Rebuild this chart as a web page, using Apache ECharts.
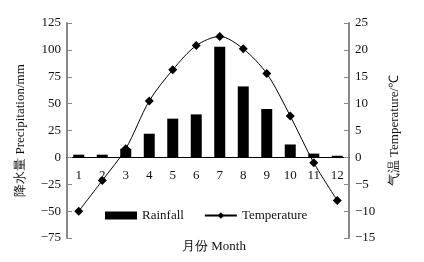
<!DOCTYPE html>
<html>
<head>
<meta charset="utf-8" />
<title></title>
<script type="text/javascript" src="https://cdn.jsdelivr.net/npm/echarts@6/dist/echarts.min.js"></script>
<style>
	* { margin: 0; padding: 0; }
	html, body { background: #fff; }
	#main { width: 424px; height: 262px; }
</style>
</head>
<body>
<div id="main"></div>
<script type="text/javascript">
	var months = ['1', '2', '3', '4', '5', '6', '7', '8', '9', '10', '11', '12'];
	var rainfall = [2.5, 2.5, 8, 22, 36, 40, 103, 66, 45, 12, 3.5, 1.5];
	var temperature = [-10, -4.3, 1.6, 10.5, 16.3, 20.8, 22.5, 20.2, 15.6, 7.7, -1, -8];

	var font = 'Liberation Serif, Times New Roman, serif';
	var minus = function (v) { return String(v).replace('-', '\u2212'); };

	var gridTop = 23, gridBottom = 24, gridH = 262 - gridTop - gridBottom;
	// distance from bottom of grid up to the zero line of the left axis
	var zeroOffset = gridH * 75 / 200;

	var myChart = echarts.init(document.getElementById('main'));
	myChart.setOption({
		animation: false,
		textStyle: { fontFamily: font, color: '#111' },
		// x axis name sits under the legend, so draw it as a title
		title: {
			text: '月份 Month',
			left: 209,
			textAlign: 'center',
			top: 235,
			textStyle: { fontFamily: font, fontSize: 13, fontWeight: 'normal', color: '#111' }
		},
		grid: { left: 67, right: 75, top: gridTop, bottom: gridBottom, outerBoundsMode: 'none' },
		legend: {
			left: 100,
			top: 204,
			itemWidth: 32,
			itemHeight: 8,
			itemGap: 20,
			textStyle: { fontFamily: font, fontSize: 13, color: '#111' },
			data: [
				{ name: 'Rainfall', icon: 'rect' },
				{ name: 'Temperature' }
			]
		},
		xAxis: {
			type: 'category',
			data: months,
			offset: -zeroOffset,
			axisLine: { onZero: false, lineStyle: { color: '#000', width: 1 } },
			axisTick: { inside: true, length: 3, lineStyle: { color: '#666' } },
			axisLabel: { margin: 12, fontSize: 13, color: '#111', fontFamily: font }
		},
		yAxis: [{
			type: 'value',
			min: -75,
			max: 125,
			interval: 25,
			name: '降水量 Precipitation/mm',
			nameLocation: 'middle',
			nameGap: 40,
			nameRotate: 90,
			nameTextStyle: { fontFamily: font, fontSize: 13, color: '#111' },
			splitLine: { show: false },
			axisLine: { show: true, lineStyle: { color: '#888', width: 2 } },
			axisTick: { show: true, inside: true, length: 5, lineStyle: { color: '#888' } },
			axisLabel: { fontSize: 13, color: '#111', fontFamily: font, margin: 6, formatter: minus }
		}, {
			type: 'value',
			min: -15,
			max: 25,
			interval: 5,
			name: '气温 Temperature/℃',
			nameLocation: 'middle',
			nameGap: 39,
			nameRotate: 90,
			nameTextStyle: { fontFamily: font, fontSize: 13, color: '#111' },
			splitLine: { show: false },
			axisLine: { show: true, lineStyle: { color: '#888', width: 2 } },
			axisTick: { show: true, inside: true, length: 5, lineStyle: { color: '#888' } },
			axisLabel: { fontSize: 13, color: '#111', fontFamily: font, margin: 6, formatter: minus }
		}],
		series: [{
			name: 'Rainfall',
			type: 'bar',
			yAxisIndex: 0,
			barWidth: 11,
			itemStyle: { color: '#000' },
			data: rainfall
		}, {
			name: 'Temperature',
			type: 'line',
			yAxisIndex: 1,
			smooth: 0.3,
			symbol: 'diamond',
			symbolSize: 9,
			lineStyle: { color: '#000', width: 1 },
			itemStyle: { color: '#000' },
			data: temperature
		}]
	});
</script>
</body>
</html>
